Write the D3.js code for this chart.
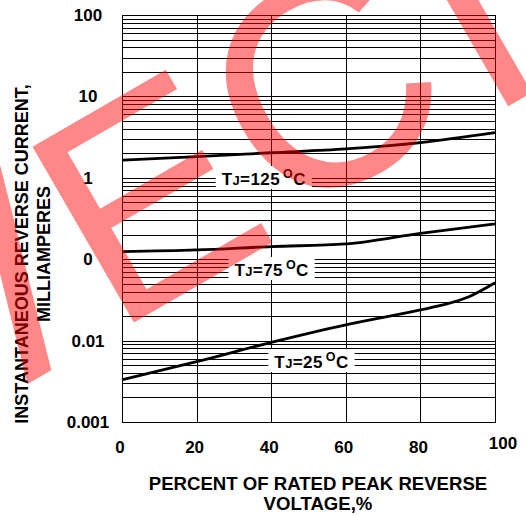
<!DOCTYPE html>
<html>
<head>
<meta charset="utf-8">
<script src="https://cdn.jsdelivr.net/npm/d3@7"></script>
<style>
body { margin: 0; background: #fff; }
text { font-family: "Liberation Sans", Arial, sans-serif; }
</style>
</head>
<body>
<script>
// reverse leakage current vs % of rated peak reverse voltage, 3 junction temps
var pct = [0, 20, 40, 60, 80, 100];
var tj125 = [1.65, 1.82, 2.03, 2.26, 2.70, 3.58];
var tj75 = [0.124, 0.130, 0.143, 0.154, 0.208, 0.271];
var pct25 = [0, 20, 40, 60, 80, 86, 93, 100];
var tj25 = [0.0033, 0.0055, 0.0095, 0.0156, 0.0238, 0.0274, 0.0346, 0.0514];

var xTicks = [0, 20, 40, 60, 80, 100];
var yTicks = [0.001, 0.01, 0.1, 1, 10, 100];
var yTickLabels = ['0.001', '0.01', '0', '1', '10', '100'];   // "0" is what the sheet prints for 0.1

var curveTemps = ['125', '75', '25'];
var labelPct = [38, 40.1, 50.8];
var labelVal = [0.815, 0.0622, 0.0046];

var W = 526, H = 515;
var svg = d3.select('body').append('svg').attr('width', W).attr('height', H);

var x = d3.scaleLinear().domain([0, 100]).range([122, 495]);
var y = d3.scaleLog().domain([0.001, 100]).range([422, 15]);

// log grid, 1..9 in each decade
var gridVals = [];
for (var d = -3; d < 2; d++) {
    for (var k = 1; k < 10; k++) gridVals.push(k * Math.pow(10, d));
}
gridVals.push(100);

var grid = svg.append('g').attr('stroke', '#000').attr('stroke-width', 1).attr('shape-rendering', 'crispEdges');
grid.selectAll('line.h').data(gridVals).enter().append('line')
    .attr('x1', x(0)).attr('x2', x(100))
    .attr('y1', function(v){ return Math.round(y(v)) + 0.5; })
    .attr('y2', function(v){ return Math.round(y(v)) + 0.5; });
grid.selectAll('line.v').data(xTicks).enter().append('line')
    .attr('y1', y(100)).attr('y2', y(0.001))
    .attr('x1', function(v){ return Math.round(x(v)) + 0.5; })
    .attr('x2', function(v){ return Math.round(x(v)) + 0.5; });

// curves
var series = [
    {xs: pct, ys: tj125},
    {xs: pct, ys: tj75},
    {xs: pct25, ys: tj25}
];
var line = d3.line()
    .x(function(p){ return x(p[0]); })
    .y(function(p){ return y(p[1]); })
    .curve(d3.curveMonotoneX);

svg.selectAll('path.curve').data(series).enter().append('path')
    .attr('class', 'curve')
    .attr('fill', 'none').attr('stroke', '#000').attr('stroke-width', 2.8)
    .attr('d', function(s){ return line(s.xs.map(function(v, i){ return [v, s.ys[i]]; })); });

// curve labels with a white patch behind them
curveTemps.forEach(function(t, i){
    var g = svg.append('g');
    var bg = g.append('rect').attr('fill', '#fff');
    var txt = g.append('text')
        .attr('x', x(labelPct[i])).attr('y', y(labelVal[i]))
        .attr('text-anchor', 'middle')
        .attr('font-weight', 'bold').attr('font-size', 17)
        .attr('letter-spacing', 0.4);
    txt.append('tspan').text('T');
    txt.append('tspan').attr('font-size', 13).text('J');
    txt.append('tspan').text('=' + t);
    txt.append('tspan').attr('font-size', 12.5).attr('dx', 3).attr('dy', -7).text('O');
    txt.append('tspan').attr('dy', 7).text('C');
    var bb = txt.node().getBBox();
    bg.attr('x', bb.x - 6).attr('y', bb.y - 1).attr('width', bb.width + 12).attr('height', bb.height + 1);
});

// frame
svg.append('rect')
    .attr('x', x(0) + 0.5).attr('y', y(100) + 0.5)
    .attr('width', x(100) - x(0)).attr('height', y(0.001) - y(100))
    .attr('fill', 'none').attr('stroke', '#000').attr('stroke-width', 1);

// tick labels
svg.selectAll('text.ytick').data(yTicks).enter().append('text')
    .attr('class', 'ytick')
    .attr('x', 88).attr('y', function(v){ return y(v) + 6; })
    .attr('text-anchor', 'middle').attr('font-weight', 'bold').attr('font-size', 17)
    .text(function(v, i){ return yTickLabels[i]; });

svg.selectAll('text.xtick').data(xTicks).enter().append('text')
    .attr('class', 'xtick')
    .attr('x', function(v){ return x(v); })
    .attr('y', 453)
    .attr('dx', function(v, i){ return i === xTicks.length - 1 ? 8 : -2; })
    .attr('dy', function(v, i){ return i === xTicks.length - 1 ? -4 : 0; })
    .attr('text-anchor', 'middle').attr('font-weight', 'bold').attr('font-size', 17)
    .text(function(v){ return v; });

// axis titles
var xt = svg.append('text').attr('text-anchor', 'middle').attr('font-weight', 'bold').attr('font-size', 18.6);
xt.append('tspan').attr('x', 318).attr('y', 490).text('PERCENT OF RATED PEAK REVERSE');
xt.append('tspan').attr('x', 318).attr('y', 510).text('VOLTAGE,%');

var yt = svg.append('text').attr('text-anchor', 'middle').attr('font-weight', 'bold').attr('font-size', 18)
    .attr('transform', 'translate(0,254) rotate(-90)');
yt.append('tspan').attr('x', 0).attr('y', 28).text('INSTANTANEOUS REVERSE CURRENT,');
yt.append('tspan').attr('x', 0).attr('y', 50).text('MILLIAMPERES');

// red watermark across the plot (letters tilted 30 deg)
var wm = svg.append('g')
    .attr('transform', 'translate(113,334.5) rotate(-30)')
    .attr('fill', 'rgb(255,0,0)').attr('fill-opacity', 0.47)
    .attr('font-size', 295);
// only one slanted stroke of the first letter shows at the left edge
wm.append('text').attr('transform', 'translate(-85,0) skewX(-16)').attr('x', -41).text('I');
[['E', 0, 0], ['C', 200, -9], ['T', 380, 0]].forEach(function(l){
    wm.append('text').attr('x', l[1]).attr('y', l[2]).text(l[0]);
});
</script>
</body>
</html>
